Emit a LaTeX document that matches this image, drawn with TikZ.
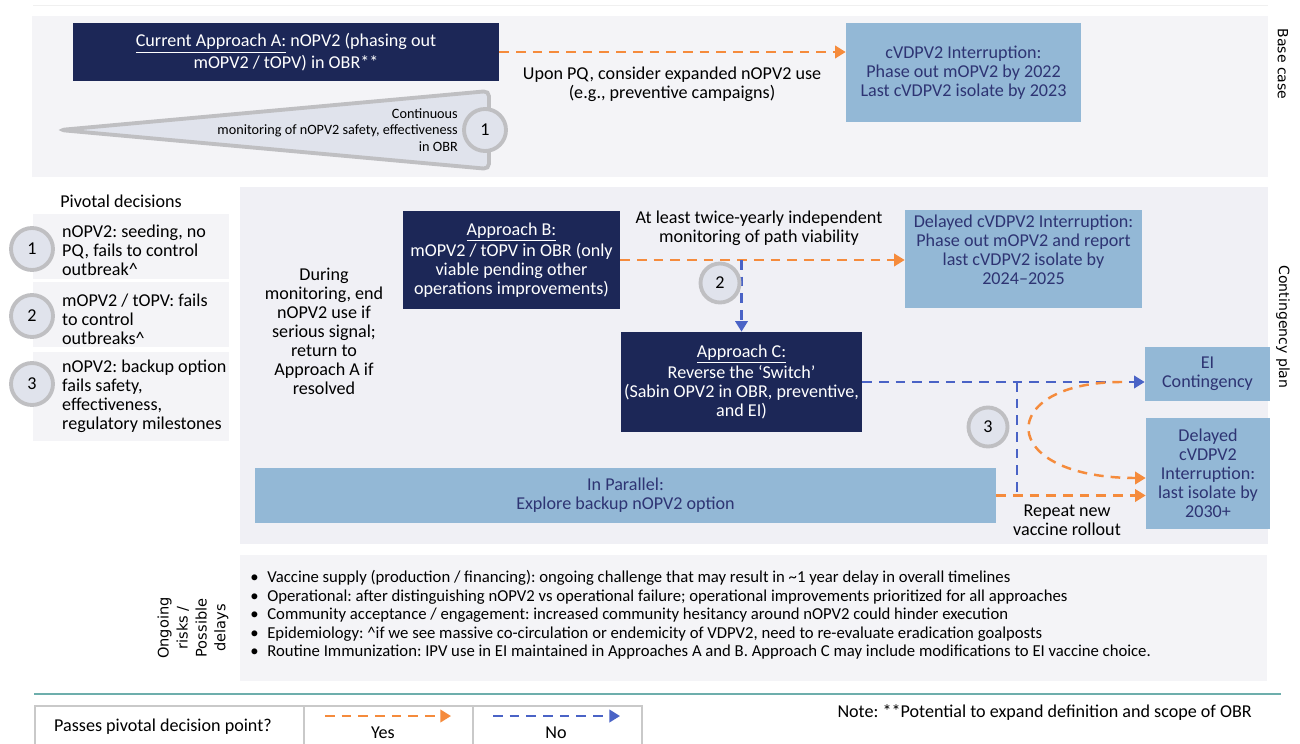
\documentclass[tikz,border=0pt]{standalone}
\usepackage{fontspec}
\setmainfont{Carlito}
\newfontfamily\sidefont{DejaVu Sans}
\usetikzlibrary{arrows.meta,calc}
\definecolor{navy}{HTML}{1C2757}
\definecolor{paleblue}{HTML}{93B8D6}
\definecolor{boxtext}{HTML}{2E3473}
\definecolor{panel}{HTML}{F4F4F7}
\definecolor{panelmid}{HTML}{F0F0F5}
\definecolor{yesorange}{HTML}{F58B3C}
\definecolor{noblue}{HTML}{4A63C6}
\definecolor{ringgray}{HTML}{BFBFC2}
\definecolor{ringfill}{HTML}{E0E3EC}
\definecolor{rule}{HTML}{6DAEAC}
\definecolor{cellline}{HTML}{C9C9C9}
\frenchspacing

\begin{document}
\begin{tikzpicture}[x=0.02cm, y=-0.02cm, >={Triangle[length=6pt,width=7pt]},
  font=\fontsize{10.3}{10.8}\selectfont,
  darkbox/.style={fill=navy, text=white, align=center, inner sep=0pt},
  lightbox/.style={fill=paleblue, text=boxtext, align=center, inner sep=0pt},
  num/.style={circle, draw=ringgray, line width=2.2pt, fill=ringfill, minimum size=0.78cm, inner sep=0pt},
  yes/.style={draw=yesorange, line width=1.4pt, dash pattern=on 5.5pt off 4pt, ->},
  no/.style={draw=noblue, line width=1.4pt, dash pattern=on 5.5pt off 4pt, ->},
  side/.style={font=\sidefont\fontsize{8}{10.8}\selectfont, align=center}]
  \useasboundingbox (0,0) rectangle (1300,743);

  % panels
  \draw[gray!12] (33,5) -- (1268,5);
  \fill[panel] (32,16) rectangle (1268,177);
  \fill[panelmid] (240,187) rectangle (1268,544);
  \fill[panel] (240,555) rectangle (1267,681);
  \fill[panel] (33,214) rectangle (229,279);
  \fill[panel] (33,282) rectangle (229,347);
  \fill[panel] (33,352) rectangle (229,441);
  \draw[rule, line width=1.3pt] (34,694) -- (1281,694);

  % base case
  \filldraw[fill=ringfill, draw=ringgray, line width=2.2pt, rounded corners=3pt]
    (60,130) -- (489,91) -- (489,169) -- cycle;
  \node[anchor=east, align=right, font=\fontsize{8.1}{9.6}\selectfont] (monitor) at (464,130)
    {Continuous\\monitoring of nOPV2 safety, effectiveness\\in OBR};
  \node[darkbox, minimum width=8.52cm, minimum height=1.16cm] (appA) at (286,52)
    {\underline{Current Approach A:} nOPV2 (phasing out\\mOPV2 / tOPV) in OBR**};
  \node[lightbox, minimum width=4.7cm, minimum height=1.98cm] (endA) at (963.5,72.5)
    {cVDPV2 Interruption:\\Phase out mOPV2 by 2022\\Last cVDPV2 isolate by 2023};
  \node[align=center] (upon) at (672,84.5)
    {Upon PQ, consider expanded nOPV2 use\\(e.g., preventive campaigns)};
  \draw[yes] (appA.east) -- (appA.east -| endA.west);
  \node[num, minimum size=0.84cm] (n1) at (485,130) {1};
  \node[side, rotate=-90] (basecase) at (1283,64) {Base case};

  % pivotal decisions
  \node (pivotal) at (121,201) {Pivotal decisions};
  \node[anchor=west, align=left] (pd1) at (56,250) {nOPV2: seeding, no\\PQ, fails to control\\outbreak\textasciicircum};
  \node[anchor=west, align=left] (pd2) at (56,319) {mOPV2 / tOPV: fails\\to control\\outbreaks\textasciicircum};
  \node[anchor=west, align=left] (pd3) at (56,396) {nOPV2: backup option\\fails safety,\\effectiveness,\\regulatory milestones};
  \node[num, minimum size=0.84cm] (k1) at (32,249) {1};
  \node[num, minimum size=0.84cm] (k2) at (32,316) {2};
  \node[num, minimum size=0.84cm] (k3) at (32,384) {3};

  % contingency plan
  \node[align=center] (during) at (324,331.5)
    {During\\monitoring, end\\nOPV2 use if\\serious signal;\\return to\\Approach A if\\resolved};
  \node[darkbox, minimum width=4.34cm, minimum height=1.96cm] (appB) at (511.5,260)
    {\underline{Approach B:}\\mOPV2 / tOPV in OBR (only\\viable pending other\\operations improvements)};
  \node[align=center] (twice) at (759,228)
    {At least twice-yearly independent\\monitoring of path viability};
  \node[lightbox, minimum width=4.74cm, minimum height=1.96cm,
    label={[text=boxtext, align=center, yshift=5.5pt]center:{Delayed cVDPV2 Interruption:\\Phase out mOPV2 and report\\last cVDPV2 isolate by\\2024--2025}}] (endB) at (1023.5,259) {};
  \node[darkbox, minimum width=4.82cm, minimum height=2cm] (appC) at (741.5,382)
    {\underline{Approach C:}\\Reverse the ‘Switch’\\(Sabin OPV2 in OBR, preventive,\\and EI)};
  \node[lightbox, minimum width=2.5cm, minimum height=1.08cm] (endEI) at (1207.5,374)
    {EI\\Contingency};
  \node[lightbox, minimum width=2.48cm, minimum height=2.22cm] (end2030) at (1208,473.5)
    {Delayed\\cVDPV2\\Interruption:\\last isolate by\\2030+};
  \node[lightbox, minimum width=14.82cm, minimum height=1.1cm] (parallel) at (625.5,495.5)
    {In Parallel:\\Explore backup nOPV2 option};
  \node[align=center] (repeat) at (1067,520.5) {Repeat new\\vaccine rollout};
  \node[side, rotate=-90] (contplan) at (1283,327) {Contingency plan};

  \coordinate (br2) at (appC.north |- appB.east);
  \coordinate (x3) at (1017,0);
  \coordinate (br3) at (appC.east -| x3);
  \coordinate (cst) at (1122,382);
  \draw[yes] (appB.east) -- (appB.east -| endB.west);
  \draw[no] (br2) -- (appC.north);
  \draw[no] (appC.east) -- (appC.east -| endEI.west);
  \draw[no, -] (br3) -- (br3 |- parallel.east);
  \draw[yes] (parallel.east) -- (parallel.east -| end2030.west);
  \draw[yes] (cst) .. controls (995,382) and (995,478) .. ($(end2030.west)+(0,4.5)$);
  \node[num] (n2) at (720,283) {2};
  \node[num] (n3) at (988,427) {3};

  % risks
  \node[side, rotate=90, font=\sidefont\fontsize{8.3}{10.8}\selectfont] (risks) at (193,628)
    {Ongoing\\risks /\\Possible\\delays};
  \node[anchor=west, align=left, inner sep=0pt, font=\fontsize{9.5}{10.5}\selectfont] (bullets) at (250,615)
    {\makebox[0.34cm][l]{\textbullet}Vaccine supply (production / financing): ongoing challenge that may result in \textasciitilde1 year delay in overall timelines\\
     \makebox[0.34cm][l]{\textbullet}Operational: after distinguishing nOPV2 vs operational failure; operational improvements prioritized for all approaches\\
     \makebox[0.34cm][l]{\textbullet}Community acceptance / engagement: increased community hesitancy around nOPV2 could hinder execution\\
     \makebox[0.34cm][l]{\textbullet}Epidemiology: \textasciicircum if we see massive co-circulation or endemicity of VDPV2, need to re-evaluate eradication goalposts\\
     \makebox[0.34cm][l]{\textbullet}Routine Immunization: IPV use in EI maintained in Approaches A and B. Approach C may include modifications to EI vaccine choice.};

  % legend
  \draw[cellline, line width=1pt] (35,706) rectangle (304,760);
  \draw[cellline, line width=1pt] (304,706) rectangle (473,760);
  \draw[cellline, line width=1pt] (473,706) rectangle (642,760);
  \node[anchor=west] (passes) at (48,727) {Passes pivotal decision point?};
  \node (yeslab) at (383,733) {Yes};
  \node (nolab) at (556,733) {No};
  \coordinate (ya) at (325,716);
  \coordinate (yb) at (451,716);
  \coordinate (na) at (493,716);
  \coordinate (nb) at (620,716);
  \draw[yes] (ya) -- (yb);
  \draw[no] (na) -- (nb);
  \node[anchor=east] (note) at (1258,713) {Note: **Potential to expand definition and scope of OBR};
\end{tikzpicture}
\end{document}
